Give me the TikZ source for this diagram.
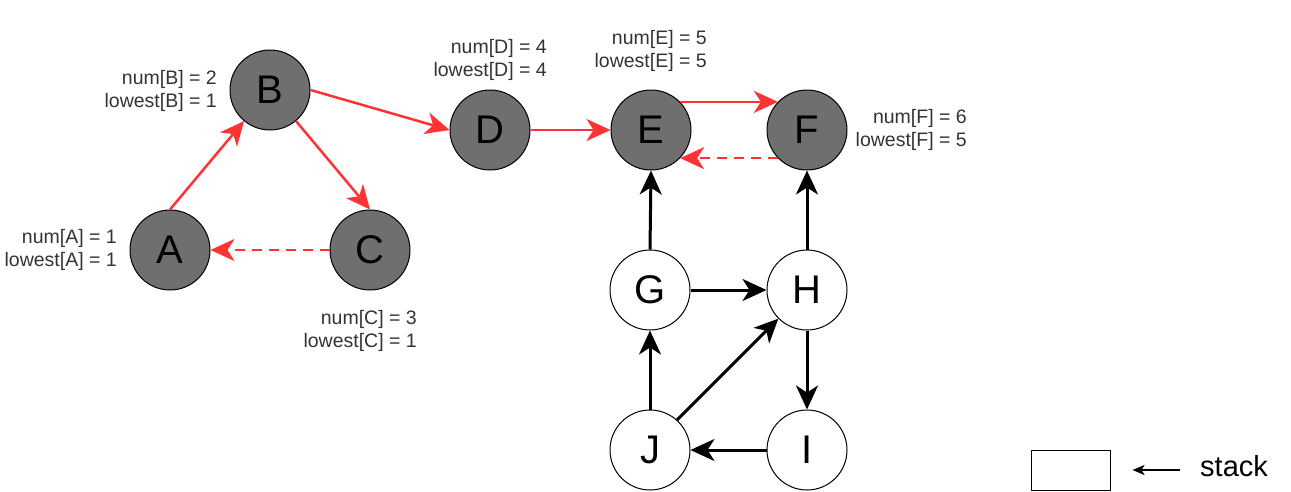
\documentclass[tikz,border=0pt]{standalone}
\usepackage{fontspec}
\setmainfont{Liberation Sans}
\usetikzlibrary{arrows.meta}
\definecolor{nodegray}{HTML}{6F6F6F}
\definecolor{edgered}{HTML}{FF3333}
\definecolor{labelgray}{HTML}{333333}
\tikzset{
  vis/.style={circle,draw=black,line width=1pt,fill=nodegray,minimum size=80pt,inner sep=0pt,font=\fontsize{40}{44}\selectfont},
  unvis/.style={circle,draw=black,line width=1pt,fill=white,minimum size=80pt,inner sep=0pt,font=\fontsize{40}{44}\selectfont},
  info/.style={align=right,anchor=east,inner sep=0pt,text=labelgray,font=\fontsize{19.5}{23}\selectfont},
  redarrow/.style={draw=edgered,line width=2.5pt,-{Stealth[length=24pt,width=22pt,inset=7pt]}},
  reddash/.style={redarrow,dash pattern=on 10pt off 7pt},
  blackarrow/.style={draw=black,line width=3pt,-{Stealth[length=24pt,width=22pt,inset=7pt]}},
  stackbox/.style={draw=black,line width=1pt,minimum width=79pt,minimum height=40pt,inner sep=0pt},
  thinarrow/.style={draw=black,line width=1.5pt,-{Stealth[length=12pt,width=10pt,inset=3pt]}}
}
\begin{document}
\begin{tikzpicture}[x=1pt,y=-1pt]
\useasboundingbox (0,0) rectangle (1291,491);
% nodes
\node[vis] (A) at (170,250) {A};
\node[vis] (B) at (270,90) {B};
\node[vis] (C) at (370,250) {C};
\node[vis] (D) at (490,130) {D};
\node[vis] (E) at (651,130) {E};
\node[vis] (F) at (807,130) {F};
\node[unvis] (G) at (650,290) {G};
\node[unvis] (H) at (807,290) {H};
\node[unvis] (J) at (650,450) {J};
\node[unvis] (I) at (807,450) {I};
% labels
\node[info] (lA) at (117,250) {num[A] = 1\\lowest[A] = 1};
\node[info] (lB) at (217,91) {num[B] = 2\\lowest[B] = 1};
\node[info] (lC) at (417,331) {num[C] = 3\\lowest[C] = 1};
\node[info] (lD) at (547,60) {num[D] = 4\\lowest[D] = 4};
\node[info] (lE) at (707,51) {num[E] = 5\\lowest[E] = 5};
\node[info] (lF) at (967,130) {num[F] = 6\\lowest[F] = 5};
% red edges
\draw[redarrow] (A.north) -- (B);
\draw[redarrow] (B) -- (C.north);
\draw[redarrow] (B.east) -- (D.west);
\draw[reddash] (C.west) -- (A.east);
\draw[redarrow] (D.east) -- (E.west);
\draw[redarrow] (E.44) -- (F.136);
\draw[reddash] (F.224) -- (E.316);
% black edges
\draw[blackarrow] (G.north) -- (E.south);
\draw[blackarrow] (H.north) -- (F.south);
\draw[blackarrow] (G.east) -- (H.west);
\draw[blackarrow] (H.south) -- (I.north);
\draw[blackarrow] (I.west) -- (J.east);
\draw[blackarrow] (J.north) -- (G.south);
\draw[blackarrow] (J.48) -- (H.225);
% stack legend
\node[stackbox] (box) at (1070.5,470) {};
\node[anchor=west,inner sep=0pt,font=\fontsize{29}{33}\selectfont] (slabel) at (1200,466) {stack};
\coordinate (sa) at (1180,470);
\draw[thinarrow,shorten >=22pt] (sa) -- (box.east);
\end{tikzpicture}
\end{document}
